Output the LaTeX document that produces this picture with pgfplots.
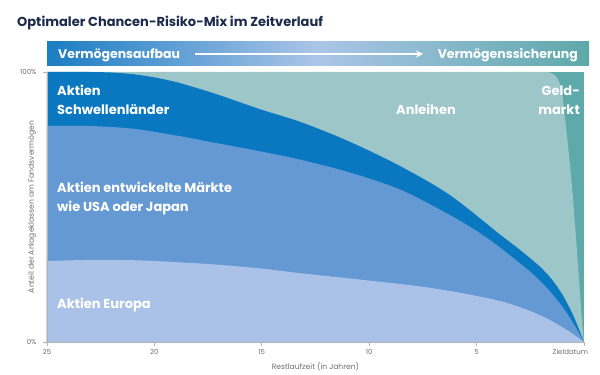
\documentclass[border=0pt]{standalone}
\usepackage{pgfplots}
\pgfplotsset{compat=1.18}
\usepackage{fontspec}
\setmainfont{Poppins}
\usetikzlibrary{arrows.meta}
\definecolor{titlecol}{HTML}{1C2B4B}
\definecolor{bannerL}{HTML}{1B7DC3}
\definecolor{bannerM}{HTML}{ABC5E8}
\definecolor{bannerR}{HTML}{5EA9A9}
\definecolor{europa}{HTML}{AAC2E8}
\definecolor{entw}{HTML}{6499D3}
\definecolor{schwellen}{HTML}{0A78C0}
\definecolor{anleihen}{HTML}{9CC6C8}
\definecolor{geld}{HTML}{5EA9AA}
\definecolor{axgray}{HTML}{B4B4B4}
\definecolor{labgray}{HTML}{6E6E6E}
\begin{document}
\begin{tikzpicture}[x=1pt,y=1pt]
\path[use as bounding box] (0,0) rectangle (600,375);
\node[anchor=base west, font=\fontsize{13}{15}\selectfont\bfseries, text=titlecol, inner sep=0] at (17,348) {Optimaler Chancen-Risiko-Mix im Zeitverlauf};
\shade[left color=bannerL, right color=bannerR, middle color=bannerM] (47,309) rectangle (589,333);
\node[anchor=base west, font=\fontsize{12.5}{14}\selectfont\bfseries, text=white, inner sep=0] at (58,316.5) {Vermögensaufbau};
\draw[white, line width=1.8pt, -{Stealth[length=7pt,width=7pt]}] (195,321) -- (423,321);
\node[anchor=base east, font=\fontsize{12.5}{14}\selectfont\bfseries, text=white, inner sep=0] at (578,316.5) {Vermögenssicherung};
\begin{axis}[
  at={(47pt,33pt)}, anchor=south west, scale only axis,
  width=537pt, height=270pt,
  xmin=0, xmax=25, ymin=0, ymax=100, x dir=reverse,
  axis x line*=bottom, axis y line*=left,
  axis line style={draw=axgray, line width=0.6pt, -},
  tick style={draw=axgray, line width=0.6pt},
  tick align=outside, major tick length=4pt,
  xtick={0,5,10,15,20,25},
  xticklabels={\makebox[0pt][r]{Zieldatum\kern-4pt},5,10,15,20,25},
  ytick={0,100}, yticklabels={0\%,100\%},
  ticklabel style={font=\fontsize{7}{8}\selectfont, text=labgray},
  yticklabel style={xshift=-3pt},
  xlabel={Restlaufzeit (in Jahren)},
  ylabel={Anteil der Anlageklassen am Fondsvermögen},
  label style={font=\fontsize{7.6}{8}\selectfont, text=labgray},
  xlabel style={at={(axis description cs:0.5,-0.0926)}, anchor=center},
  ylabel style={at={(axis description cs:-0.028,0.5)}, anchor=center},
  axis on top,
]
\addplot[draw=none, fill=geld] coordinates {(25,100) (0,100)} \closedcycle;
\addplot[draw=none, fill=anleihen] coordinates {
(25,100) (1.72,100) (1.58,99.8) (1.45,99.3) (1.32,98.5) (1.2,97.2) (1.1,95) (1.0,91) (0.88,82.5) (0.76,74) (0.65,65.6) (0.51,53.3) (0.33,34.1) (0.2,19.5) (0.09,7) (0,0)} \closedcycle;
\addplot[draw=none, fill=schwellen, smooth] coordinates {
(25,100) (23,100) (22,99.8) (21,99.2) (20,98) (19,96.3) (18,94) (17,91.5) (15,86) (13.2,81.5) (11,74.5) (8.57,65.2) (6.24,54.4) (3.91,39.8) (3.2,35.5) (2.5,31) (2,27.5) (1.5,23.2) (1,17.5) (0.5,9.8) (0,0)} \closedcycle;
\addplot[draw=none, fill=entw, smooth] coordinates {
(25,80) (23,80) (21,79) (19,76.5) (17,73.5) (15,70.5) (13.2,67.5) (11,63) (8.57,56.5) (6.24,47) (4.93,40.8) (3.91,35) (3.2,30.5) (2.5,26) (2,22.3) (1.5,18) (1,13) (0.5,7) (0,0)} \closedcycle;
\addplot[draw=none, fill=europa, smooth] coordinates {
(25,30) (23,30.4) (21,30.3) (19,29.6) (17,28.6) (15,27.2) (13.22,25.5) (8.57,21.5) (6.24,18.9) (3.91,15.2) (2.51,11.5) (1.58,8.1) (0.65,3.7) (0,0)} \closedcycle;
\end{axis}
\begin{scope}[every node/.style={font=\fontsize{13}{15}\selectfont\bfseries, text=white, inner sep=0}]
\node[anchor=base west] at (57,279) {Aktien};
\node[anchor=base west] at (57,260) {Schwellenländer};
\node[anchor=base west] at (57,182) {Aktien entwickelte Märkte};
\node[anchor=base west] at (57,163) {wie USA oder Japan};
\node[anchor=base west] at (57,66) {Aktien Europa};
\node[anchor=base] at (426,260) {Anleihen};
\node[anchor=base east] at (580,279) {Geld-};
\node[anchor=base east] at (580,260) {markt};
\end{scope}
\end{tikzpicture}
\end{document}
